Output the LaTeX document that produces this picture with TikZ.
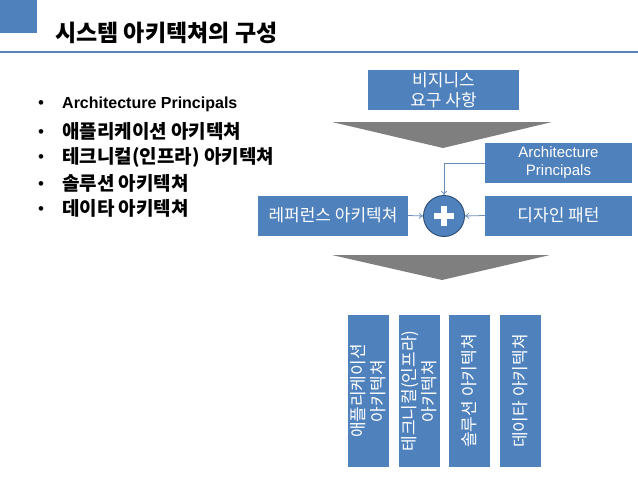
\documentclass[tikz,border=0pt]{standalone}
\usepackage{fontspec}
\setmainfont{Liberation Sans}
\newfontfamily\kr{Noto Sans CJK KR}
\usetikzlibrary{arrows.meta,calc}
\definecolor{boxblue}{HTML}{4F81BD}
\definecolor{rulecol}{HTML}{5B80B2}
\definecolor{chev}{HTML}{7F7F7F}
\definecolor{navy}{HTML}{2C4D75}
\definecolor{linkcol}{HTML}{6C8EBF}
\begin{document}
\begin{tikzpicture}[x=1pt,y=-1pt,
  bluebox/.style={fill=boxblue, text=white, inner sep=0pt, align=center},
  hbox/.style={bluebox, minimum height=40pt},
  vbox/.style={bluebox, minimum width=152pt, minimum height=41pt, rotate=90},
  boxkr/.style={font=\kr\fontsize{17}{20}\selectfont},
  boxlat/.style={font=\fontsize{15}{18}\selectfont},
  bulletdot/.style={anchor=base, inner sep=0pt, font=\fontsize{17}{18}\selectfont},
  itemkr/.style={anchor=west, inner sep=0pt, font=\kr\bfseries\fontsize{19}{20}\selectfont},
  itemlat/.style={anchor=west, inner sep=0pt, font=\bfseries\fontsize{16}{20}\selectfont},
  link/.style={draw=linkcol, line width=0.8pt, -{To[length=4pt,width=6pt]}},
  chevron/.style={fill=chev, draw=none}
]
\useasboundingbox (0,0) rectangle (638,479);
% header
\fill[boxblue] (0,0) rectangle (37,33);
\node[anchor=west, inner sep=0pt, font=\kr\bfseries\fontsize{23}{24}\selectfont] (title) at (55,32.5) {시스템 아키텍쳐의 구성};
\draw[rulecol, line width=2.5pt] (0,52) -- (638,52);
% bullet list
\coordinate (bx) at (41,0);
\node[itemlat] (t1) at (62,104.5) {Architecture Principals};
\node[itemkr] (t2) at (62,131) {애플리케이션 아키텍쳐};
\node[itemkr] (t3) at (62,157) {테크니컬(인프라) 아키텍쳐};
\node[itemkr] (t4) at (62,183) {솔루션 아키텍쳐};
\node[itemkr] (t5) at (62,208) {데이타 아키텍쳐};
\node[bulletdot] (b1) at (bx |- t1.base) {•};
\foreach \i in {2,3,4,5}{
  \node[bulletdot] (b\i) at ($(bx |- t\i.base)+(0,-1)$) {•};
}
% top diagram
\node[hbox, boxkr, minimum width=151pt] (biz) at (443.5,90) {비지니스\\요구 사항};
\fill[chevron] (332,122) -- (552,122) -- (443,148) -- cycle;
\node[hbox, boxlat, minimum width=147pt] (arch) at (558.5,163) {Architecture\\Principals};
\node[hbox, boxkr, minimum width=150pt] (ref) at (333,215.5) {레퍼런스 아키텍쳐};
\node[hbox, boxkr, minimum width=147pt] (design) at (558.5,215.5) {디자인 패턴};
\node[circle, fill=boxblue, draw=navy, line width=0.9pt, minimum size=41pt, inner sep=0pt] (plus) at (444,216) {};
\fill[white] ($(plus.center)+(-10,-3)$) rectangle ($(plus.center)+(10,3)$);
\fill[white] ($(plus.center)+(-3,-10)$) rectangle ($(plus.center)+(3,10)$);
\draw[link] (ref.east) -- (plus.west);
\draw[link] (design.west) -- (plus.east);
\draw[link] (arch.west) -| (plus.north);
% second chevron
\fill[chevron] (332,255) -- (550,255) -- (442,280) -- cycle;
% vertical boxes
\node[vbox, boxkr] (v1) at (368.5,391) {애플리케이션\\아키텍쳐};
\node[vbox, boxkr] (v2) at (419.5,391) {테크니컬(인프라)\\아키텍쳐};
\node[vbox, boxkr] (v3) at (469,391) {솔루션 아키텍쳐};
\node[vbox, boxkr] (v4) at (520.5,391) {데이타 아키텍쳐};
\end{tikzpicture}
\end{document}
